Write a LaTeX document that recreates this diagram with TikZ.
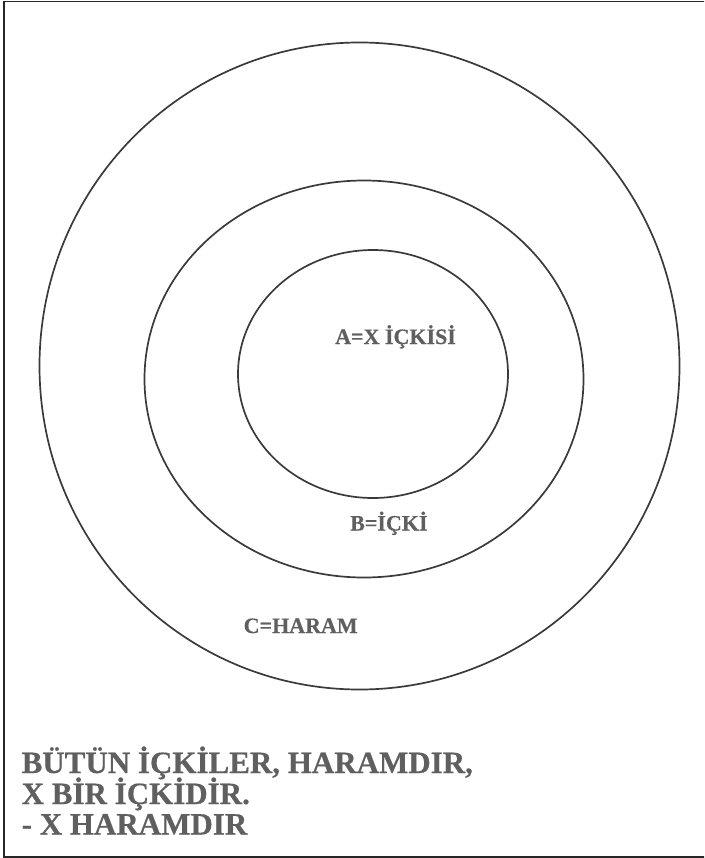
\documentclass[tikz,border=0pt]{standalone}
\usepackage{fontspec}
\setmainfont{Liberation Serif}
\newfontfamily\lbf{Liberation Serif Bold}[FakeBold=0.5]
\definecolor{txtgray}{HTML}{5f5f5f}
\definecolor{linegray}{HTML}{3a3a3a}
\begin{document}
\begin{tikzpicture}[x=1pt,y=-1pt,
  ring/.style={draw=linegray,line width=1.7pt},
  lbl/.style={anchor=base west,inner sep=0pt,text=txtgray,font=\lbf\fontsize{22}{26}\selectfont},
  big/.style={anchor=base west,inner sep=0pt,text=txtgray,align=left,font=\lbf\fontsize{31}{30.5}\selectfont}]
\useasboundingbox (0,0) rectangle (704,858);
\clip (0,0) rectangle (704,858);
\draw[draw=black!85,line width=1.8pt] (720,1.6) -- (4.2,1.6) -- (4.2,856.8) -- (720,856.8);
\draw[ring] (359.5,366) ellipse [x radius=320, y radius=323.5];
\draw[ring] (364,379) ellipse [x radius=219.5, y radius=198.5];
\draw[ring] (373,374) ellipse [x radius=135, y radius=124];
\node[lbl] (a) at (335,344) {A=X İÇKİSİ};
\node[lbl] (b) at (350,530.5) {B=İÇKİ};
\node[lbl] (c) at (243.5,633) {C=HARAM};
\node[big] (t1) at (21.5,773) {BÜTÜN İÇKİLER, HARAMDIR,};
\node[big] (t2) at (21.5,804) {X BİR İÇKİDİR.};
\node[big] (t3) at (21.5,834.5) {- X HARAMDIR};
\end{tikzpicture}
\end{document}
